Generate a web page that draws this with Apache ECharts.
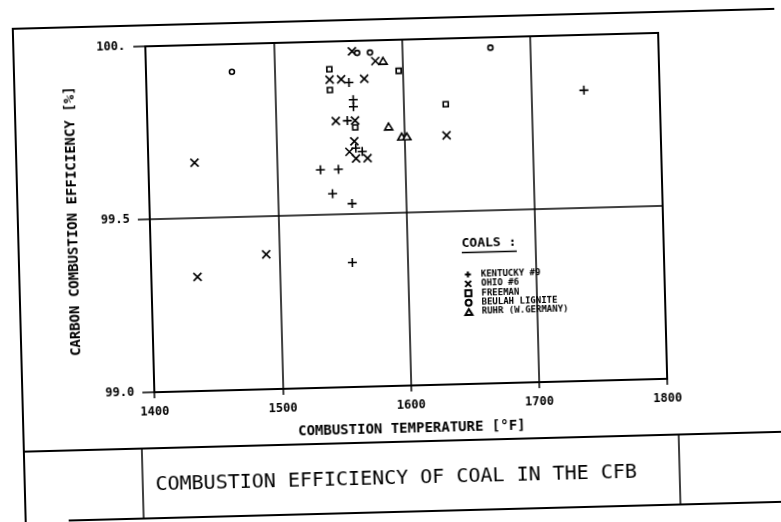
<!DOCTYPE html>
<html>
<head>
<meta charset="utf-8">
<title>COMBUSTION EFFICIENCY OF COAL IN THE CFB</title>
<script src="https://cdn.jsdelivr.net/npm/echarts@6/dist/echarts.min.js"></script>
<style>
html, body { margin: 0; padding: 0; background: #fff; overflow: hidden; }
/* the scanned original sits slightly tilted */
#main { width: 781px; height: 522px; transform: rotate(-1.5deg); }
</style>
</head>
<body>
<div id="main"></div>
<script>
// axis ticks
var xMin = 1400, xMax = 1800, xStep = 100;
var yMin = 99, yMax = 100, yStep = 0.5;
var yTickLabels = { '99': '99.0', '99.5': '99.5', '100': '100.' };

// legend names
var coalNames = ['KENTUCKY #9', 'OHIO #6', 'FREEMAN', 'BEULAH LIGNITE', 'RUHR (W.GERMANY)'];

// [temperature F, efficiency %]
var kentucky = [[1558, 99.88], [1561, 99.83], [1561, 99.81], [1556, 99.77], [1562, 99.69],
  [1567, 99.68], [1534, 99.63], [1548, 99.63], [1543, 99.56], [1558, 99.53],
  [1557, 99.36], [1741, 99.84]];
var ohio = [[1436, 99.66], [1561, 99.97], [1579, 99.94], [1543, 99.89], [1552, 99.89],
  [1570, 99.89], [1547, 99.77], [1562, 99.77], [1561, 99.71], [1557, 99.68],
  [1562, 99.66], [1571, 99.66], [1633, 99.72], [1490, 99.39], [1436, 99.33]];
var freeman = [[1543, 99.92], [1543, 99.86], [1597, 99.91], [1562, 99.75], [1633, 99.81]];
var beulah = [[1467, 99.92], [1565, 99.965], [1575, 99.965], [1669, 99.97]];
var ruhr = [[1585, 99.94], [1588, 99.75], [1598, 99.72], [1602, 99.72]];

var mono = '"DejaVu Sans Mono", monospace';
// 符号
var plus = 'path://M0,5L10,5M5,0L5,10';
var cross = 'path://M1,1L9,9M9,1L1,9';
var square = 'path://M0,0L10,0L10,10L0,10Z';
var ring = 'path://M0,5A5,5,0,1,1,10,5A5,5,0,1,1,0,5Z';
var tri = 'path://M5,0L10,8.5L0,8.5Z';

function coal(name, data, symbol, size, fill) {
  return {
    name: name,
    type: 'scatter',
    data: data,
    symbol: symbol,
    symbolSize: size,
    symbolKeepAspect: true,
    itemStyle: { color: fill, borderColor: '#000', borderWidth: 1.6, opacity: 1 },
    emphasis: { disabled: true }
  };
}

var myChart = echarts.init(document.getElementById('main'));
var option = {
  animation: false,
  backgroundColor: '#fff',
  grid: { left: 151, right: 117, top: 40, bottom: 136, show: true, borderColor: '#000', borderWidth: 2 },
  xAxis: {
    type: 'value', min: xMin, max: xMax, interval: xStep,
    name: 'COMBUSTION TEMPERATURE [°F]', nameLocation: 'middle', nameGap: 36,
    nameTextStyle: { fontFamily: mono, fontWeight: 'bold', fontSize: 14, color: '#000' },
    axisLine: { show: true, lineStyle: { color: '#000', width: 2 } },
    axisTick: { show: true, length: 6, lineStyle: { color: '#000', width: 1.5 } },
    axisLabel: {
      margin: 14, fontFamily: mono, fontWeight: 'bold', fontSize: 12, color: '#000',
      formatter: function (v) { return String(v); }
    },
    splitLine: { show: true, lineStyle: { color: '#000', width: 1.5 } }
  },
  yAxis: {
    type: 'value', min: yMin, max: yMax, interval: yStep,
    name: 'CARBON COMBUSTION EFFICIENCY [%]', nameLocation: 'middle', nameGap: 70,
    nameTextStyle: { fontFamily: mono, fontWeight: 'bold', fontSize: 14, color: '#000' },
    axisLine: { show: true, lineStyle: { color: '#000', width: 2 } },
    axisTick: { show: true, length: 12, lineStyle: { color: '#000', width: 1.5 } },
    axisLabel: {
      margin: 20, fontFamily: mono, fontWeight: 'bold', fontSize: 12, color: '#000',
      formatter: function (v) { return yTickLabels[String(v)] || String(v); }
    },
    splitLine: { show: true, lineStyle: { color: '#000', width: 1.5 } }
  },
  legend: {
    orient: 'vertical', left: 458, top: 267,
    itemWidth: 16, itemHeight: 6, itemGap: 0.4,
    textStyle: { fontFamily: mono, fontWeight: 'bold', fontSize: 9, lineHeight: 8, color: '#000' },
    data: coalNames
  },
  series: [
    coal(coalNames[0], kentucky, plus, 9, 'transparent'),
    coal(coalNames[1], ohio, cross, 8, 'transparent'),
    coal(coalNames[2], freeman, square, 5, '#fff'),
    coal(coalNames[3], beulah, ring, 5, '#fff'),
    coal(coalNames[4], ruhr, tri, 8, '#fff')
  ],
  graphic: [
    // 外框
    { type: 'polyline', shape: { points: [[19, 522], [19, 19], [783, 19], [783, 190]] }, style: { stroke: '#000', lineWidth: 2, fill: null } },
    { type: 'line', shape: { x1: 19, y1: 442, x2: 800, y2: 442 }, style: { stroke: '#000', lineWidth: 2 } },
    { type: 'line', shape: { x1: 62, y1: 512, x2: 800, y2: 512 }, style: { stroke: '#000', lineWidth: 2 } },
    { type: 'line', shape: { x1: 137, y1: 442, x2: 137, y2: 512 }, style: { stroke: '#000', lineWidth: 1.5 } },
    { type: 'line', shape: { x1: 674, y1: 442, x2: 674, y2: 512 }, style: { stroke: '#000', lineWidth: 1.5 } },
    {
      type: 'text', left: 'center', top: 469,
      style: { text: 'COMBUSTION EFFICIENCY OF COAL IN THE CFB', fontFamily: mono, fontSize: 20, fill: '#000' }
    },
    // legend heading
    {
      type: 'text', left: 462, top: 239,
      style: { text: 'COALS :', fontFamily: mono, fontWeight: 'bold', fontSize: 13, fill: '#000' }
    },
    { type: 'line', shape: { x1: 462, y1: 254.5, x2: 517, y2: 254.5 }, style: { stroke: '#000', lineWidth: 1.5 } }
  ]
};
myChart.setOption(option);
</script>
</body>
</html>
